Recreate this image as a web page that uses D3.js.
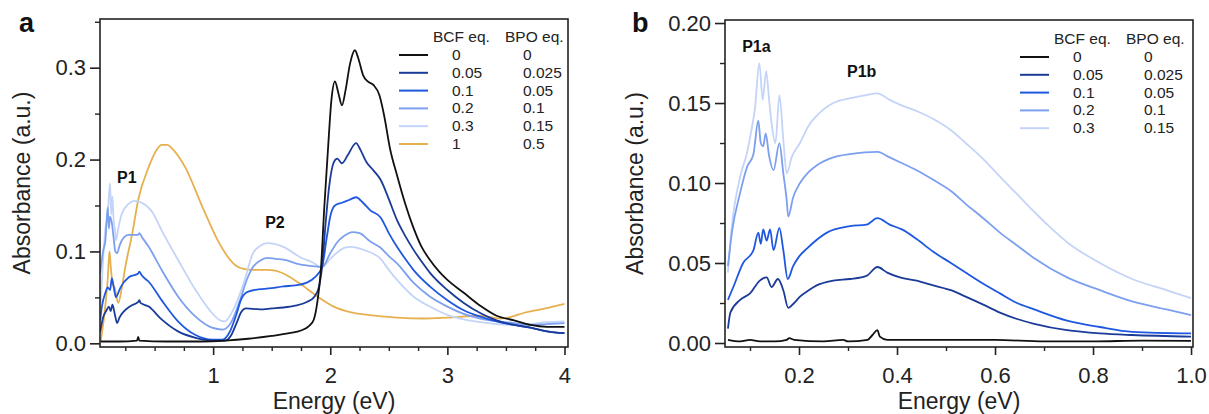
<!DOCTYPE html>
<html>
<head>
<meta charset="utf-8">
<script src="https://cdn.jsdelivr.net/npm/d3@7"></script>
<style>
  body { margin: 0; background: #fff; }
  svg { font-family: "Liberation Sans", Arial, sans-serif; }
</style>
</head>
<body>
<div id="chart"></div>
<script>
// ---------- data: panel a (full range) ----------
const seriesLabels = ["0", "0.05", "0.1", "0.2", "0.3", "1"];
const bpoLabels = ["0", "0.025", "0.05", "0.1", "0.15", "0.5"];
const seriesColors = ["#111111", "#1b3b98", "#1f58e0", "#7c9ff0", "#c4d4f8", "#e6b04f"];

const a_bcf0 = [[0.04,0.002],[0.2,0.002],[0.35,0.003],[0.36,0.007],[0.37,0.003],[0.6,0.002],[0.9,0.002],[1.1,0.003],[1.3,0.005],[1.5,0.008],[1.65,0.011],[1.75,0.014],[1.82,0.019],[1.86,0.026],[1.89,0.045],[1.92,0.08],[1.95,0.15],[1.98,0.21],[2.01,0.265],[2.04,0.285],[2.07,0.272],[2.10,0.259],[2.13,0.275],[2.17,0.305],[2.21,0.319],[2.24,0.31],[2.28,0.292],[2.32,0.285],[2.37,0.281],[2.42,0.27],[2.46,0.248],[2.51,0.212],[2.57,0.183],[2.64,0.152],[2.71,0.126],[2.78,0.105],[2.85,0.091],[2.93,0.078],[3.0,0.069],[3.14,0.055],[3.28,0.041],[3.42,0.030],[3.57,0.025],[3.71,0.020],[3.85,0.018],[4.0,0.018]];
const a_bcf005 = [[0.035,0.012],[0.06,0.028],[0.09,0.036],[0.11,0.040],[0.125,0.035],[0.14,0.042],[0.16,0.032],[0.18,0.022],[0.2,0.028],[0.24,0.035],[0.3,0.041],[0.36,0.045],[0.37,0.047],[0.38,0.044],[0.45,0.040],[0.56,0.026],[0.7,0.013],[0.85,0.006],[1.0,0.003],[1.1,0.003],[1.15,0.008],[1.2,0.022],[1.24,0.034],[1.28,0.038],[1.4,0.037],[1.5,0.038],[1.6,0.039],[1.7,0.041],[1.8,0.045],[1.86,0.050],[1.9,0.060],[1.93,0.083],[1.96,0.13],[1.99,0.17],[2.03,0.197],[2.06,0.201],[2.10,0.196],[2.15,0.205],[2.22,0.218],[2.26,0.210],[2.31,0.197],[2.37,0.188],[2.43,0.178],[2.5,0.157],[2.57,0.134],[2.64,0.117],[2.71,0.102],[2.78,0.089],[2.85,0.077],[3.0,0.058],[3.14,0.044],[3.28,0.033],[3.42,0.025],[3.57,0.020],[3.71,0.017],[3.85,0.013],[4.0,0.011]];
const a_bcf01 = [[0.035,0.025],[0.05,0.040],[0.08,0.055],[0.1,0.061],[0.12,0.058],[0.135,0.071],[0.15,0.062],[0.17,0.050],[0.19,0.055],[0.21,0.061],[0.28,0.072],[0.36,0.076],[0.37,0.078],[0.39,0.074],[0.45,0.067],[0.56,0.047],[0.7,0.024],[0.85,0.009],[0.99,0.004],[1.08,0.004],[1.14,0.012],[1.2,0.032],[1.24,0.048],[1.28,0.055],[1.35,0.058],[1.5,0.060],[1.6,0.062],[1.7,0.063],[1.8,0.066],[1.87,0.072],[1.93,0.083],[1.97,0.115],[2.0,0.138],[2.04,0.150],[2.1,0.153],[2.16,0.156],[2.22,0.159],[2.28,0.153],[2.34,0.145],[2.43,0.137],[2.5,0.120],[2.57,0.105],[2.64,0.092],[2.71,0.080],[2.85,0.062],[3.0,0.047],[3.14,0.036],[3.28,0.029],[3.42,0.024],[3.57,0.020],[3.71,0.017],[3.85,0.013],[4.0,0.011]];
const a_bcf02 = [[0.035,0.076],[0.06,0.10],[0.08,0.112],[0.1,0.148],[0.11,0.125],[0.12,0.138],[0.135,0.131],[0.15,0.115],[0.165,0.10],[0.18,0.098],[0.2,0.106],[0.22,0.112],[0.28,0.118],[0.36,0.118],[0.37,0.120],[0.39,0.116],[0.45,0.105],[0.56,0.080],[0.7,0.051],[0.85,0.029],[0.99,0.017],[1.08,0.015],[1.15,0.022],[1.23,0.047],[1.29,0.070],[1.34,0.083],[1.4,0.090],[1.46,0.093],[1.53,0.092],[1.6,0.091],[1.74,0.086],[1.85,0.084],[1.93,0.083],[2.0,0.098],[2.06,0.110],[2.12,0.117],[2.19,0.121],[2.25,0.120],[2.34,0.111],[2.43,0.104],[2.5,0.095],[2.57,0.087],[2.71,0.066],[2.85,0.051],[3.0,0.040],[3.14,0.032],[3.28,0.027],[3.42,0.024],[3.57,0.022],[3.71,0.020],[3.85,0.021],[4.0,0.022]];
const a_bcf03 = [[0.04,0.044],[0.06,0.09],[0.08,0.125],[0.1,0.14],[0.11,0.16],[0.12,0.174],[0.13,0.14],[0.14,0.16],[0.15,0.135],[0.16,0.125],[0.17,0.112],[0.19,0.125],[0.22,0.141],[0.28,0.152],[0.33,0.155],[0.39,0.153],[0.48,0.143],[0.56,0.123],[0.7,0.091],[0.85,0.058],[0.99,0.033],[1.06,0.025],[1.1,0.024],[1.17,0.036],[1.26,0.065],[1.34,0.098],[1.4,0.106],[1.46,0.109],[1.53,0.108],[1.6,0.105],[1.74,0.094],[1.85,0.088],[1.93,0.083],[2.0,0.092],[2.06,0.099],[2.12,0.104],[2.17,0.105],[2.23,0.104],[2.3,0.101],[2.43,0.092],[2.5,0.080],[2.57,0.069],[2.71,0.051],[2.85,0.040],[3.0,0.031],[3.14,0.026],[3.28,0.023],[3.42,0.021],[3.57,0.020],[3.71,0.021],[3.85,0.023],[4.0,0.024]];
const a_bcf1 = [[0.04,0.002],[0.07,0.03],[0.1,0.07],[0.115,0.10],[0.125,0.085],[0.14,0.066],[0.16,0.06],[0.19,0.044],[0.22,0.06],[0.25,0.083],[0.31,0.120],[0.36,0.156],[0.45,0.192],[0.52,0.211],[0.56,0.216],[0.61,0.216],[0.65,0.212],[0.76,0.192],[0.91,0.148],[1.04,0.112],[1.12,0.095],[1.19,0.085],[1.26,0.081],[1.34,0.080],[1.46,0.080],[1.53,0.079],[1.6,0.076],[1.74,0.065],[1.89,0.051],[2.03,0.040],[2.17,0.034],[2.32,0.031],[2.57,0.028],[2.8,0.027],[3.0,0.028],[3.28,0.030],[3.45,0.027],[3.55,0.029],[3.65,0.033],[3.8,0.037],[3.9,0.040],[4.0,0.043]];

// ---------- data: panel b (low-energy range) ----------
const b_bcf0 = [[0.055,0.002],[0.08,0.001],[0.1,0.002],[0.12,0.001],[0.15,0.001],[0.175,0.002],[0.18,0.003],[0.19,0.002],[0.25,0.001],[0.29,0.002],[0.3,0.001],[0.34,0.002],[0.35,0.005],[0.36,0.008],[0.365,0.004],[0.38,0.002],[0.45,0.002],[0.5,0.002],[0.6,0.002],[0.7,0.001],[0.8,0.001],[0.9,0.0015],[1.0,0.0013]];
const b_bcf005 = [[0.055,0.009],[0.06,0.019],[0.08,0.027],[0.1,0.031],[0.12,0.039],[0.134,0.041],[0.144,0.035],[0.157,0.040],[0.168,0.033],[0.178,0.022],[0.19,0.025],[0.202,0.029],[0.22,0.033],[0.236,0.036],[0.27,0.039],[0.304,0.040],[0.338,0.042],[0.36,0.0475],[0.38,0.044],[0.406,0.041],[0.44,0.039],[0.474,0.036],[0.51,0.033],[0.54,0.029],[0.576,0.024],[0.61,0.019],[0.645,0.015],[0.68,0.012],[0.747,0.008],[0.814,0.006],[0.88,0.005],[1.0,0.004]];
const b_bcf01 = [[0.055,0.027],[0.066,0.035],[0.086,0.050],[0.107,0.058],[0.117,0.069],[0.122,0.062],[0.127,0.071],[0.134,0.064],[0.141,0.071],[0.148,0.058],[0.16,0.072],[0.168,0.058],[0.177,0.040],[0.188,0.048],[0.2,0.054],[0.216,0.059],[0.257,0.069],[0.304,0.073],[0.338,0.074],[0.36,0.078],[0.385,0.074],[0.41,0.071],[0.44,0.065],[0.474,0.057],[0.51,0.050],[0.54,0.044],[0.576,0.037],[0.61,0.031],[0.645,0.025],[0.68,0.021],[0.747,0.014],[0.814,0.010],[0.88,0.007],[1.0,0.006]];
const b_bcf02 = [[0.055,0.048],[0.063,0.069],[0.08,0.094],[0.094,0.110],[0.107,0.118],[0.117,0.139],[0.122,0.125],[0.127,0.123],[0.132,0.131],[0.139,0.117],[0.148,0.108],[0.16,0.125],[0.168,0.106],[0.175,0.089],[0.178,0.079],[0.188,0.091],[0.202,0.100],[0.22,0.107],[0.236,0.111],[0.27,0.116],[0.304,0.118],[0.36,0.1195],[0.385,0.116],[0.406,0.113],[0.44,0.108],[0.474,0.102],[0.51,0.095],[0.54,0.087],[0.576,0.078],[0.61,0.069],[0.645,0.061],[0.68,0.053],[0.747,0.041],[0.814,0.033],[0.88,0.026],[0.95,0.021],[1.0,0.0175]];
const b_bcf03 = [[0.055,0.044],[0.063,0.073],[0.08,0.104],[0.094,0.119],[0.104,0.135],[0.11,0.146],[0.119,0.175],[0.126,0.152],[0.133,0.170],[0.139,0.152],[0.145,0.135],[0.152,0.125],[0.16,0.155],[0.168,0.127],[0.175,0.106],[0.185,0.116],[0.202,0.125],[0.22,0.136],[0.236,0.142],[0.27,0.150],[0.304,0.153],[0.338,0.155],[0.36,0.156],[0.385,0.152],[0.406,0.149],[0.44,0.145],[0.474,0.140],[0.51,0.133],[0.54,0.125],[0.576,0.115],[0.61,0.104],[0.645,0.093],[0.68,0.082],[0.71,0.073],[0.747,0.063],[0.814,0.050],[0.88,0.040],[0.95,0.033],[1.0,0.028]];

// ticks
const aXTicks = [1, 2, 3, 4];
const aXMinor = [0.25, 0.5, 0.75, 1.25, 1.5, 1.75, 2.25, 2.5, 2.75, 3.25, 3.5, 3.75];
const aYTicks = [0, 0.1, 0.2, 0.3];
const aYMinor = [0.05, 0.15, 0.25, 0.35];
const bXTicks = [0.2, 0.4, 0.6, 0.8, 1.0];
const bXMinor = [0.1, 0.3, 0.5, 0.7, 0.9];
const bYTicks = [0, 0.05, 0.1, 0.15, 0.2];
const bYMinor = [0.025, 0.075, 0.125, 0.175];

// peak annotations [label, energy, absorbance]
const aNotes = [["P1", 0.18, 0.174], ["P2", 1.444, 0.1255]];
const bNotes = [["P1a", 0.084, 0.182], ["P1b", 0.298, 0.166]];

const width = 1209, height = 414;
const svg = d3.select("#chart").append("svg")
    .attr("width", width)
    .attr("height", height);

function drawPanel(p) {
    const x = d3.scaleLinear().domain(p.xDomain).range([p.left, p.right]);
    const y = d3.scaleLinear().domain(p.yDomain).range([p.bottom, p.top]);
    const g = svg.append("g");

    // clip so the traces stay inside the frame
    const clipId = "clip-" + p.name;
    g.append("clipPath").attr("id", clipId)
        .append("rect")
        .attr("x", p.left).attr("y", p.top)
        .attr("width", p.right - p.left).attr("height", p.bottom - p.top);

    const line = d3.line()
        .x(d => x(d[0]))
        .y(d => y(d[1]))
        .curve(d3.curveMonotoneX);

    // draw light traces first, black on top
    const order = p.series.map((s, i) => i).reverse();
    g.append("g").attr("clip-path", `url(#${clipId})`)
        .selectAll("path")
        .data(order)
        .enter()
        .append("path")
        .attr("d", i => line(p.series[i]))
        .attr("fill", "none")
        .attr("stroke", i => seriesColors[i])
        .attr("stroke-width", 1.8)
        .attr("stroke-linejoin", "round");

    // frame
    g.append("rect")
        .attr("x", p.left).attr("y", p.top)
        .attr("width", p.right - p.left).attr("height", p.bottom - p.top)
        .attr("fill", "none")
        .attr("stroke", "#222")
        .attr("stroke-width", 1.6);

    // X axis
    const xAxis = g.append("g")
        .attr("transform", `translate(0, ${p.bottom})`)
        .call(d3.axisBottom(x).tickValues(p.xTicks).tickSize(8).tickSizeOuter(0)
            .tickPadding(12).tickFormat(p.xFormat));
    xAxis.select(".domain").remove();
    xAxis.selectAll(".tick line").attr("stroke", "#222").attr("stroke-width", 1.6);
    xAxis.selectAll("text").style("font-size", "22px").style("fill", "#222");
    g.append("g")
        .attr("transform", `translate(0, ${p.bottom})`)
        .call(d3.axisBottom(x).tickValues(p.xMinor).tickSize(4).tickFormat(""))
        .call(s => s.select(".domain").remove())
        .selectAll(".tick line").attr("stroke", "#222").attr("stroke-width", 1.4);

    // Y axis
    const yAxis = g.append("g")
        .attr("transform", `translate(${p.left}, 0)`)
        .call(d3.axisLeft(y).tickValues(p.yTicks).tickSize(10).tickSizeOuter(0)
            .tickPadding(4).tickFormat(p.yFormat));
    yAxis.select(".domain").remove();
    yAxis.selectAll(".tick line").attr("stroke", "#222").attr("stroke-width", 1.6);
    yAxis.selectAll("text").style("font-size", "22px").style("fill", "#222");
    g.append("g")
        .attr("transform", `translate(${p.left}, 0)`)
        .call(d3.axisLeft(y).tickValues(p.yMinor).tickSize(5).tickFormat(""))
        .call(s => s.select(".domain").remove())
        .selectAll(".tick line").attr("stroke", "#222").attr("stroke-width", 1.4);

    // axis titles
    g.append("text")
        .attr("x", (p.left + p.right) / 2)
        .attr("y", 409)
        .attr("text-anchor", "middle")
        .style("font-size", "23px")
        .style("fill", "#222")
        .text("Energy (eV)");
    g.append("text")
        .attr("transform", `translate(${p.yTitleX}, ${(p.top + p.bottom) / 2}) rotate(-90)`)
        .attr("text-anchor", "middle")
        .style("font-size", "23px")
        .style("fill", "#222")
        .text("Absorbance (a.u.)");

    // panel letter
    g.append("text")
        .attr("x", p.letterX).attr("y", 32)
        .style("font-size", "27px")
        .style("font-weight", "bold")
        .style("fill", "#111")
        .text(p.name);

    // peak labels
    g.selectAll(".note")
        .data(p.notes)
        .enter()
        .append("text")
        .attr("class", "note")
        .attr("x", d => x(d[1]))
        .attr("y", d => y(d[2]))
        .style("font-size", "16px")
        .style("font-weight", "bold")
        .style("fill", "#111")
        .text(d => d[0]);

    // legend
    const lg = g.append("g").style("font-size", "15.5px").style("fill", "#222");
    lg.append("text").attr("x", p.legX + 34).attr("y", p.legY - 18).text("BCF eq.");
    lg.append("text").attr("x", p.legX + 106).attr("y", p.legY - 18).text("BPO eq.");
    p.series.forEach((s, i) => {
        const ry = p.legY + i * 17.8;
        lg.append("line")
            .attr("x1", p.legX).attr("x2", p.legX + 29)
            .attr("y1", ry - 5).attr("y2", ry - 5)
            .attr("stroke", seriesColors[i])
            .attr("stroke-width", 2);
        lg.append("text").attr("x", p.legX + 53).attr("y", ry).text(seriesLabels[i]);
        lg.append("text").attr("x", p.legX + 124).attr("y", ry).text(bpoLabels[i]);
    });
}

drawPanel({
    name: "a",
    series: [a_bcf0, a_bcf005, a_bcf01, a_bcf02, a_bcf03, a_bcf1],
    xDomain: [0.034, 4.03], yDomain: [-0.004, 0.353],
    left: 100, right: 568, top: 19, bottom: 347,
    xTicks: aXTicks, xMinor: aXMinor, yTicks: aYTicks, yMinor: aYMinor,
    xFormat: d3.format("d"), yFormat: d3.format(".1f"),
    yTitleX: 30, letterX: 19,
    notes: aNotes,
    legX: 399, legY: 60
});

drawPanel({
    name: "b",
    series: [b_bcf0, b_bcf005, b_bcf01, b_bcf02, b_bcf03],
    xDomain: [0.049, 1.004], yDomain: [-0.0025, 0.2019],
    left: 725, right: 1193, top: 20, bottom: 347,
    xTicks: bXTicks, xMinor: bXMinor, yTicks: bYTicks, yMinor: bYMinor,
    xFormat: d3.format(".1f"), yFormat: d3.format(".2f"),
    yTitleX: 643, letterX: 632,
    notes: bNotes,
    legX: 1020, legY: 62
});
</script>
</body>
</html>
